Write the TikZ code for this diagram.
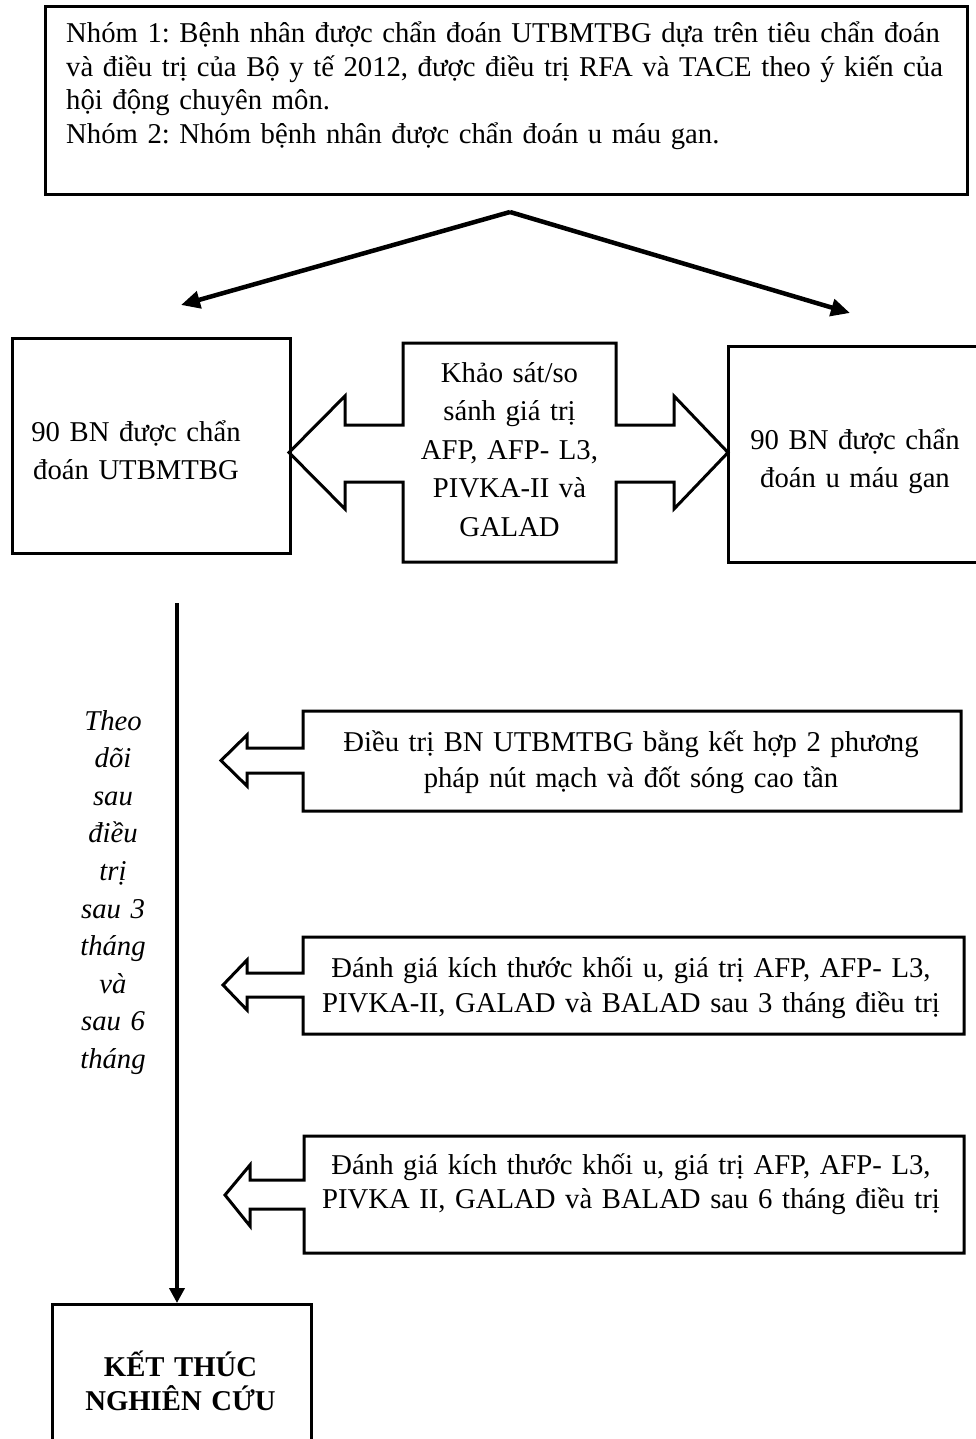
\documentclass[tikz,border=0pt]{standalone}
\usepackage{fontspec}
\setmainfont{Liberation Serif}
\usetikzlibrary{arrows.meta}
\frenchspacing
\begin{document}
\begin{tikzpicture}[x=1pt,y=-1pt,
  box/.style={draw, line width=3pt, rectangle, inner sep=0pt, anchor=north west},
  shapeline/.style={draw, line width=3pt, line join=miter},
  txt/.style={anchor=base, inner sep=0pt, align=center, font=\fontsize{28.7}{#1}\selectfont},
  bigarrow/.style={line width=4.5pt, -{Triangle[length=19pt,width=17pt]}},
  downarrow/.style={line width=4pt, -{Triangle[length=15pt,width=15pt]}}
]
\useasboundingbox (0,0) rectangle (976,1439);

% top box
\node[box, minimum width=922pt, minimum height=188pt] (top) at (44,5) {};
\node[anchor=base west, inner sep=0pt, text width=879pt, align=left,
      font=\fontsize{28.7}{33.5}\selectfont] (toptext) at (66,43)
 {\makebox[\linewidth][s]{Nhóm 1: Bệnh nhân được chẩn đoán UTBMTBG dựa trên tiêu chẩn đoán}\\
  \makebox[\linewidth][s]{và điều trị của Bộ y tế 2012, được điều trị RFA và TACE theo ý kiến của}\\
  hội động chuyên môn.\\
  Nhóm 2: Nhóm bệnh nhân được chẩn đoán u máu gan.};

% split arrows
\coordinate (split) at (510,212);
\coordinate (lend) at (181,305);
\coordinate (rend) at (850,313);
\draw[bigarrow] (split) -- (lend);
\draw[bigarrow] (split) -- (rend);

% left and right boxes
\node[box, minimum width=278pt, minimum height=215pt] (lbox) at (11,337) {};
\node[txt=38, text width=260pt] (ltext) at (136,441) {90 BN được chẩn\\đoán UTBMTBG};
\node[box, minimum width=252pt, minimum height=216pt] (rbox) at (727,345) {};
\node[txt=38, text width=240pt] (rtext) at (855,449) {90 BN được chẩn\\đoán u máu gan};

% middle double arrow callout
\draw[shapeline] (403,343) -- (616,343) -- (616,425) -- (674,425) -- (674,396)
  -- (728,452.5) -- (674,509) -- (674,482) -- (616,482) -- (616,562)
  -- (403,562) -- (403,482) -- (345,482) -- (345,509) -- (289,452.5)
  -- (345,396) -- (345,425) -- (403,425) -- cycle;
\node[txt=38.5, text width=210pt] (mtext) at (509.5,382)
  {Khảo sát/so\\sánh giá trị\\AFP, AFP- L3,\\PIVKA-II và\\GALAD};

% vertical line and end box
\coordinate (vstart) at (177,603);
\node[box, minimum width=259pt, minimum height=160pt] (endbox) at (51,1303) {};
\draw[downarrow] (vstart) -- (vstart |- endbox.north);
\node[txt=34, text width=250pt, font=\fontsize{28.7}{34}\selectfont\bfseries] (endtext) at (180.5,1376)
  {KẾT THÚC\\NGHIÊN CỨU};

% italic column
\node[txt=37.6, text width=110pt, font=\fontsize{28.7}{37.6}\selectfont\itshape] (follow) at (113,730)
  {Theo\\dõi\\sau\\điều\\trị\\sau 3\\tháng\\và\\sau 6\\tháng};

% callout 1
\draw[shapeline] (303,711) -- (961,711) -- (961,811) -- (303,811) -- (303,773)
  -- (247,773) -- (247,786) -- (221,760.5) -- (247,735) -- (247,748) -- (303,748) -- cycle;
\node[txt=36, text width=640pt] (c1text) at (631,751)
  {Điều trị BN UTBMTBG bằng kết hợp 2 phương\\pháp nút mạch và đốt sóng cao tần};

% callout 2
\draw[shapeline] (303,937) -- (964,937) -- (964,1034) -- (303,1034) -- (303,997)
  -- (247,997) -- (247,1010) -- (223,985) -- (247,960) -- (247,973) -- (303,973) -- cycle;
\node[txt=35, text width=640pt] (c2text) at (631,977)
  {Đánh giá kích thước khối u, giá trị AFP, AFP- L3,\\PIVKA-II, GALAD và BALAD sau 3 tháng điều trị};

% callout 3
\draw[shapeline] (304,1136) -- (964,1136) -- (964,1253) -- (304,1253) -- (304,1209)
  -- (250,1209) -- (250,1226) -- (225,1195) -- (250,1165) -- (250,1180) -- (304,1180) -- cycle;
\node[txt=34, text width=640pt] (c3text) at (631,1174)
  {Đánh giá kích thước khối u, giá trị AFP, AFP- L3,\\PIVKA II, GALAD và BALAD sau 6 tháng điều trị};
\end{tikzpicture}
\end{document}
